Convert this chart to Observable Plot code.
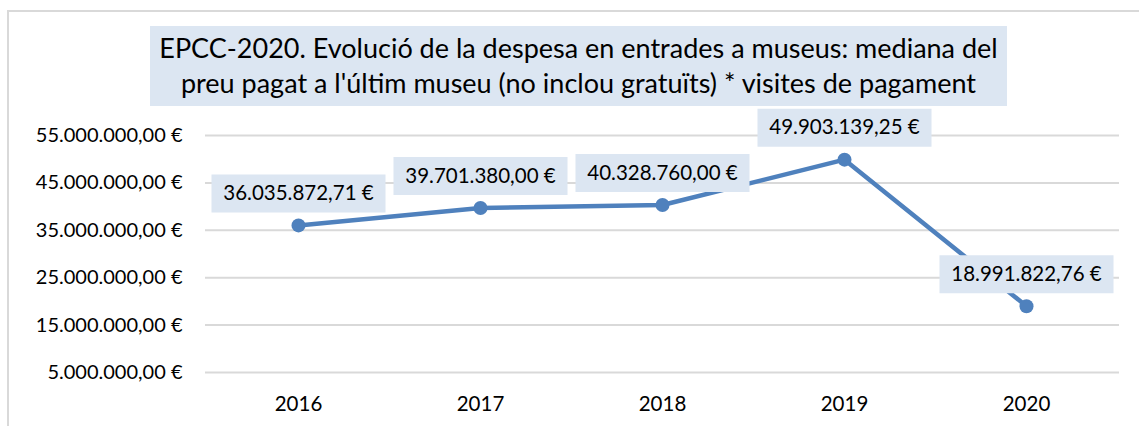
<!DOCTYPE html>
<html>
<head>
<meta charset="utf-8">
<script src="https://cdn.jsdelivr.net/npm/d3@7"></script>
<script src="https://cdn.jsdelivr.net/npm/@observablehq/plot@0.6"></script>
<style>
  html, body { margin: 0; padding: 0; background: #fff; overflow: hidden; }
  body { width: 1139px; height: 426px; position: relative; font-family: Lato, "Open Sans", sans-serif; }
  #frame { position: absolute; left: 7px; top: 10px; width: 1200px; height: 500px;
           border-left: 2px solid #d9d9d9; border-top: 2px solid #d9d9d9; box-sizing: border-box; }
  #wrap { position: absolute; left: 0; top: 0; width: 1139px; }
  #title { margin: 26px 0 0 150px; width: 857px; height: 80px; background: #dce6f2;
           box-sizing: border-box; text-align: center; font-size: 27px; line-height: 35px;
           padding-top: 4px; color: #000; white-space: nowrap; }
  #chart svg { display: block; }
</style>
</head>
<body>
<div id="frame"></div>
<div id="wrap">
  <div id="title"></div>
  <div id="chart"></div>
</div>
<script>
const titleLines = [
  "EPCC-2020. Evolució de la despesa en entrades a museus: mediana del",
  "preu pagat a l'últim museu (no inclou gratuïts) * visites de pagament"
];
const years = ["2016", "2017", "2018", "2019", "2020"];
const values = [36035872.71, 39701380.00, 40328760.00, 49903139.25, 18991822.76];
const yTicks = [5000000, 15000000, 25000000, 35000000, 45000000, 55000000];

const titleEl = document.getElementById("title");
titleLines.forEach((t, i) => {
  if (i) titleEl.appendChild(document.createElement("br"));
  titleEl.appendChild(document.createTextNode(t));
});

const locale = d3.formatLocale({decimal: ",", thousands: ".", grouping: [3], currency: ["", "\u00a0€"]});
const euro = locale.format("$,.2f");

const data = years.map((y, i) => ({year: y, value: values[i]}));

const labelBox = {
  draw(context) { context.rect(-87, -19, 174, 38); }
};

const blue = "#4f81bd";
const boxFill = "#dce6f2";

const chart = Plot.plot({
  width: 1139,
  height: 320,
  marginLeft: 205,
  marginRight: 20,
  marginTop: 29,
  marginBottom: 54,
  style: {fontFamily: "Lato, 'Open Sans', sans-serif", fontSize: "20px", color: "#000", background: "transparent"},
  x: {type: "point", domain: years, padding: 0.5, label: null},
  y: {domain: [5000000, 55000000], label: null},
  marks: [
    Plot.gridY(yTicks, {stroke: "#d9d9d9", strokeOpacity: 1, strokeWidth: 2}),
    Plot.axisY(yTicks, {tickSize: 0, tickPadding: 23, tickFormat: euro, label: null, fontSize: 20}),
    Plot.axisX({tickSize: 0, tickPadding: 24, label: null, fontSize: 20.5}),
    Plot.line(data, {x: "year", y: "value", stroke: blue, strokeWidth: 4.5, strokeLinejoin: "round", strokeLinecap: "round"}),
    Plot.dot(data, {x: "year", y: "value", r: 7, fill: blue, stroke: "none"}),
    Plot.dot(data, {x: "year", y: "value", r: 10, symbol: labelBox, fill: boxFill, stroke: "none", dy: -32}),
    Plot.text(data, {x: "year", y: "value", text: d => euro(d.value), dy: -32, fontSize: 20.5, fill: "#000", lineAnchor: "middle", textAnchor: "middle"})
  ]
});
document.getElementById("chart").appendChild(chart);
</script>
</body>
</html>
